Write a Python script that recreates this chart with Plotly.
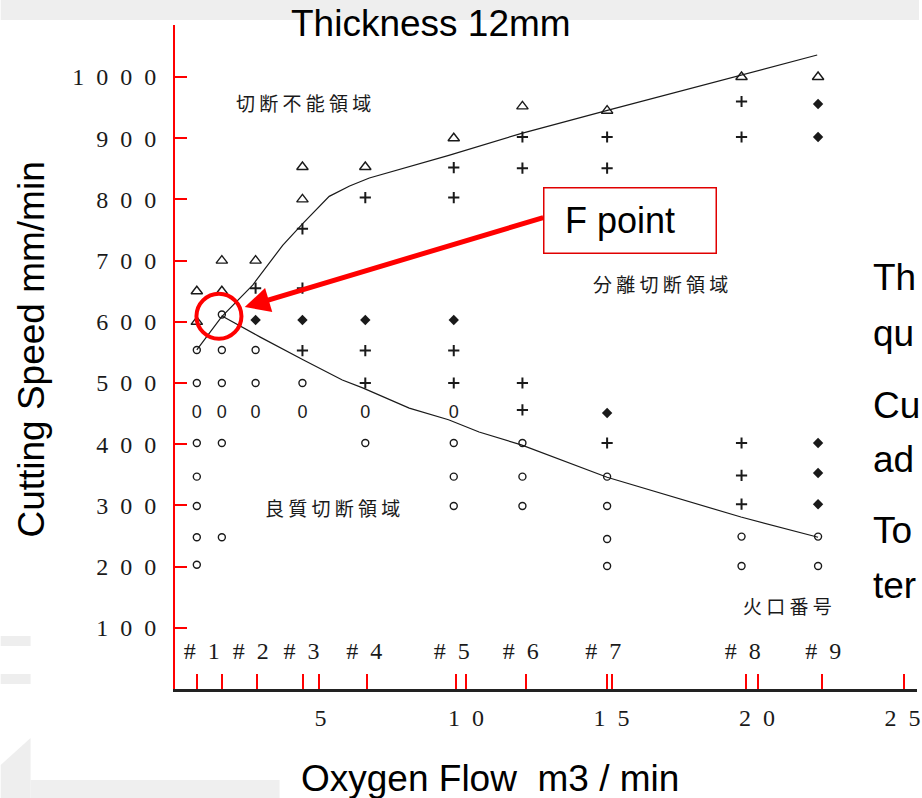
import plotly.graph_objects as go

# ---------------- data ----------------
# Oxygen flow (m3/min) vs cutting speed (mm/min), thickness 12 mm
tri_x = [0.75, 0.75, 1.61, 1.61, 2.77, 4.38, 4.38, 6.54, 9.58, 11.94, 14.85, 19.47, 22.1]
tri_y = [650, 600, 700, 650, 700, 853, 800, 853, 900, 952, 945, 1000, 1000]

plus_x = [2.77, 4.38, 4.38, 4.38, 6.54, 6.54, 6.54, 9.58, 9.58, 9.58, 9.58,
          11.94, 11.94, 11.94, 11.94, 14.85, 14.85, 14.85,
          19.47, 19.47, 19.47, 19.47, 19.47]
plus_y = [655, 752, 655, 553, 803, 553, 500, 852, 803, 553, 500,
          902, 851, 500, 456, 902, 851, 402,
          960, 902, 402, 349, 302]

bold_x = [2.77, 4.38, 6.54, 9.58, 14.85, 22.1, 22.1, 22.1, 22.1, 22.1]
bold_y = [603, 603, 603, 603, 451, 956, 902, 402, 353, 302]

circ_x = [0.75, 0.75, 0.75, 0.75, 0.75, 0.75, 0.75,
          1.61, 1.61, 1.61, 1.61, 1.61,
          2.77, 2.77, 4.38, 6.54,
          9.58, 9.58, 9.58, 11.94, 11.94, 11.94,
          14.85, 14.85, 14.85, 14.85, 19.47, 19.47, 22.1, 22.1]
circ_y = [554, 500, 402, 347, 299, 248, 203,
          612, 554, 500, 402, 248,
          554, 500, 500, 402,
          402, 347, 299, 402, 347, 299,
          347, 299, 245, 201, 249, 201, 249, 201]

zero_x = [0.75, 1.61, 2.77, 4.38, 6.54, 9.58]
zero_y = [451, 451, 451, 451, 451, 451]

upper_x = [0.75, 1.6, 2.67, 3.7, 4.38, 5.3, 6.0, 6.68, 9.41, 10.44, 11.91, 14.89, 19.44, 22.07]
upper_y = [554, 608, 660, 725, 760, 805, 822, 835, 872, 887, 908, 946, 1003, 1036]

lower_x = [1.6, 2.93, 4.4, 5.75, 6.45, 8.05, 9.4, 10.45, 11.9, 14.85, 19.45, 22.1]
lower_y = [610, 575, 538, 505, 492, 459, 440, 420, 399, 346, 281, 248]

nozzle_ticks = [0.75, 1.61, 2.81, 4.41, 4.96, 6.61, 9.65, 9.99, 12.05,
                14.85, 15.02, 19.62, 20.03, 22.22, 25.05]
nozzle_label_x = [0.92, 2.6, 4.35, 6.5, 9.51, 11.88, 14.72, 19.51, 22.28]
nozzle_label_y = [59, 59, 59, 59, 59, 59, 59, 59, 59]
nozzle_labels = ["#\u20021", "#\u20022", "#\u20023", "#\u20024", "#\u20025",
                 "#\u20026", "#\u20027", "#\u20028", "#\u20029"]

y_tickvals = [100, 200, 300, 400, 500, 600, 700, 800, 900, 1000]
y_ticktext = ["1\u20020\u20020", "2\u20020\u20020", "3\u20020\u20020", "4\u20020\u20020",
              "5\u20020\u20020", "6\u20020\u20020", "7\u20020\u20020", "8\u20020\u20020",
              "9\u20020\u20020", "1\u20020\u20020\u20020"]
x_tickvals = [5, 10, 15, 20, 25]
x_ticktext = ["5", "1\u20020", "1\u20025", "2\u20020", "2\u20025"]

region_labels = ["切 断 不 能 領 域", "分 離 切 断 領 域", "良 質 切 断 領 域", "火 口 番 号"]
region_x = [4.41, 16.7, 5.41, 21.05]
region_y = [959, 663, 296, 137]

F_x, F_y = 1.51, 609

# ---------------- layout geometry ----------------
W, H = 922, 798
ML, MR, MT, MB = 175, 2, 25, 109
PW, PH = W - ML - MR, H - MT - MB


def xp(px):
    return (px - ML) / PW


def yp(py):
    return (H - MB - py) / PH


SANS = "Liberation Sans, Arial, sans-serif"
SERIF = "Liberation Serif, Times New Roman, serif"
CJK = "Noto Sans CJK JP, sans-serif"
INK = "#1a1a1a"
RED = "#ff0000"

fig = go.Figure()

fig.add_trace(go.Scatter(x=upper_x, y=upper_y, mode="lines",
                         line=dict(color=INK, width=1.2), hoverinfo="skip"))
fig.add_trace(go.Scatter(x=lower_x, y=lower_y, mode="lines",
                         line=dict(color=INK, width=1.2), hoverinfo="skip"))
fig.add_trace(go.Scatter(x=circ_x, y=circ_y, mode="markers",
                         marker=dict(symbol="circle-open", size=7, color=INK,
                                     line=dict(width=1.4, color=INK))))
fig.add_trace(go.Scatter(x=zero_x, y=zero_y, mode="text", text=["0"] * len(zero_x),
                         textposition="middle center",
                         textfont=dict(family=SANS, size=18, color=INK)))
fig.add_trace(go.Scatter(x=tri_x, y=tri_y, mode="markers",
                         marker=dict(symbol="triangle-up-open", size=10, color=INK,
                                     line=dict(width=1.4, color=INK))))
fig.add_trace(go.Scatter(x=plus_x, y=plus_y, mode="markers",
                         marker=dict(symbol="cross-thin-open", size=8, color=INK,
                                     line=dict(width=2, color=INK))))
fig.add_trace(go.Scatter(x=bold_x, y=bold_y, mode="markers",
                         marker=dict(symbol="diamond", size=8, color=INK,
                                     line=dict(width=0))))
fig.add_trace(go.Scatter(x=nozzle_label_x, y=nozzle_label_y, mode="text",
                         text=nozzle_labels, textposition="middle center",
                         textfont=dict(family=SERIF, size=24, color=INK)))

# background decorations of the slide
shapes = [
    dict(type="rect", xref="paper", yref="paper", x0=xp(0), x1=xp(W), y0=yp(20), y1=yp(0),
         fillcolor="#eeeeee", line=dict(width=0), layer="below"),
    dict(type="rect", xref="paper", yref="paper", x0=xp(30), x1=xp(280), y0=yp(H), y1=yp(780),
         fillcolor="#efefef", line=dict(width=0), layer="below"),
    dict(type="rect", xref="paper", yref="paper", x0=xp(0), x1=xp(30), y0=yp(646), y1=yp(636),
         fillcolor="#eeeeee", line=dict(width=0), layer="below"),
    dict(type="rect", xref="paper", yref="paper", x0=xp(0), x1=xp(30), y0=yp(684), y1=yp(674),
         fillcolor="#eeeeee", line=dict(width=0), layer="below"),
    dict(type="path", xref="paper", yref="paper",
         path=f"M {xp(0)},{yp(H)} L {xp(0)},{yp(765)} L {xp(30)},{yp(738)} L {xp(30)},{yp(H)} Z",
         fillcolor="#eeeeee", line=dict(width=0), layer="below"),
    # F point circle
    dict(type="circle", xref="x", yref="y", xsizemode="pixel", ysizemode="pixel",
         xanchor=F_x, yanchor=F_y, x0=-22.5, x1=22.5, y0=-22.5, y1=22.5,
         line=dict(color=RED, width=4), layer="above"),
]

annotations = [
    dict(text="Thickness 12mm", xref="paper", yref="paper", x=xp(432), y=yp(24),
         xanchor="center", yanchor="middle",
         showarrow=False, font=dict(family=SANS, size=37, color="#000")),
    dict(text="Cutting Speed mm/min", xref="paper", yref="paper", x=xp(30), y=yp(350),
         xanchor="center", yanchor="middle",
         textangle=-90, showarrow=False, font=dict(family=SANS, size=37, color="#000")),
    dict(text="Oxygen Flow\u00a0 m3 / min", xref="paper", yref="paper", x=xp(491), y=yp(779),
         xanchor="center", yanchor="middle", showarrow=False,
         font=dict(family=SANS, size=37, color="#000")),
    # arrow to F point
    dict(text="", xref="x", yref="y", x=2.396, y=624, ax=300, ay=-90,
         showarrow=True, arrowhead=2, arrowsize=1, arrowwidth=5, arrowcolor=RED),
    dict(text="F point\u00a0\u00a0", xref="paper", yref="paper", x=xp(631.5), y=yp(220.5),
         xanchor="center", yanchor="middle",
         showarrow=False, width=165, height=58, borderpad=3, borderwidth=1.5,
         bordercolor="#e00000", bgcolor="#ffffff",
         font=dict(family=SANS, size=36, color="#000")),
]

for t, x, y in zip(region_labels, region_x, region_y):
    annotations.append(dict(text=t, xref="x", yref="y", x=x, y=y, showarrow=False,
                            xanchor="center", yanchor="middle",
                            font=dict(family=CJK, size=19, color=INK)))

right_lines = ["Th", "qu", "Cu", "ad", "To", "ter"]
right_py = [277, 333, 405, 459, 530, 585]
for t, py in zip(right_lines, right_py):
    annotations.append(dict(text=t, xref="paper", yref="paper", x=xp(874), y=yp(py),
                            xanchor="left", yanchor="middle", showarrow=False,
                            font=dict(family=SANS, size=37, color="#000")))

fig.update_layout(
    width=W, height=H,
    margin=dict(l=ML, r=MR, t=MT, b=MB),
    paper_bgcolor="#ffffff", plot_bgcolor="rgba(0,0,0,0)",
    showlegend=False,
    shapes=shapes, annotations=annotations,
    xaxis=dict(range=[0, 25.5], showline=True, linecolor="#222", linewidth=2.5,
               showgrid=False, zeroline=False, ticks="",
               tickmode="array", tickvals=x_tickvals, ticktext=x_ticktext,
               tickfont=dict(family=SERIF, size=24, color=INK),
               ticklabelstandoff=5, ticklabeloverflow="allow",
               minor=dict(tickmode="array", tickvals=nozzle_ticks, ticks="inside",
                          ticklen=15, tickwidth=2, tickcolor=RED, showgrid=False)),
    yaxis=dict(range=[0, 1085], showline=True, linecolor=RED, linewidth=2,
               showgrid=False, zeroline=False, ticks="inside", ticklen=12,
               tickwidth=2, tickcolor=RED,
               tickmode="array", tickvals=y_tickvals, ticktext=y_ticktext,
               tickfont=dict(family=SERIF, size=24, color=INK),
               ticklabelstandoff=12),
)

fig.write_html("out.html")
